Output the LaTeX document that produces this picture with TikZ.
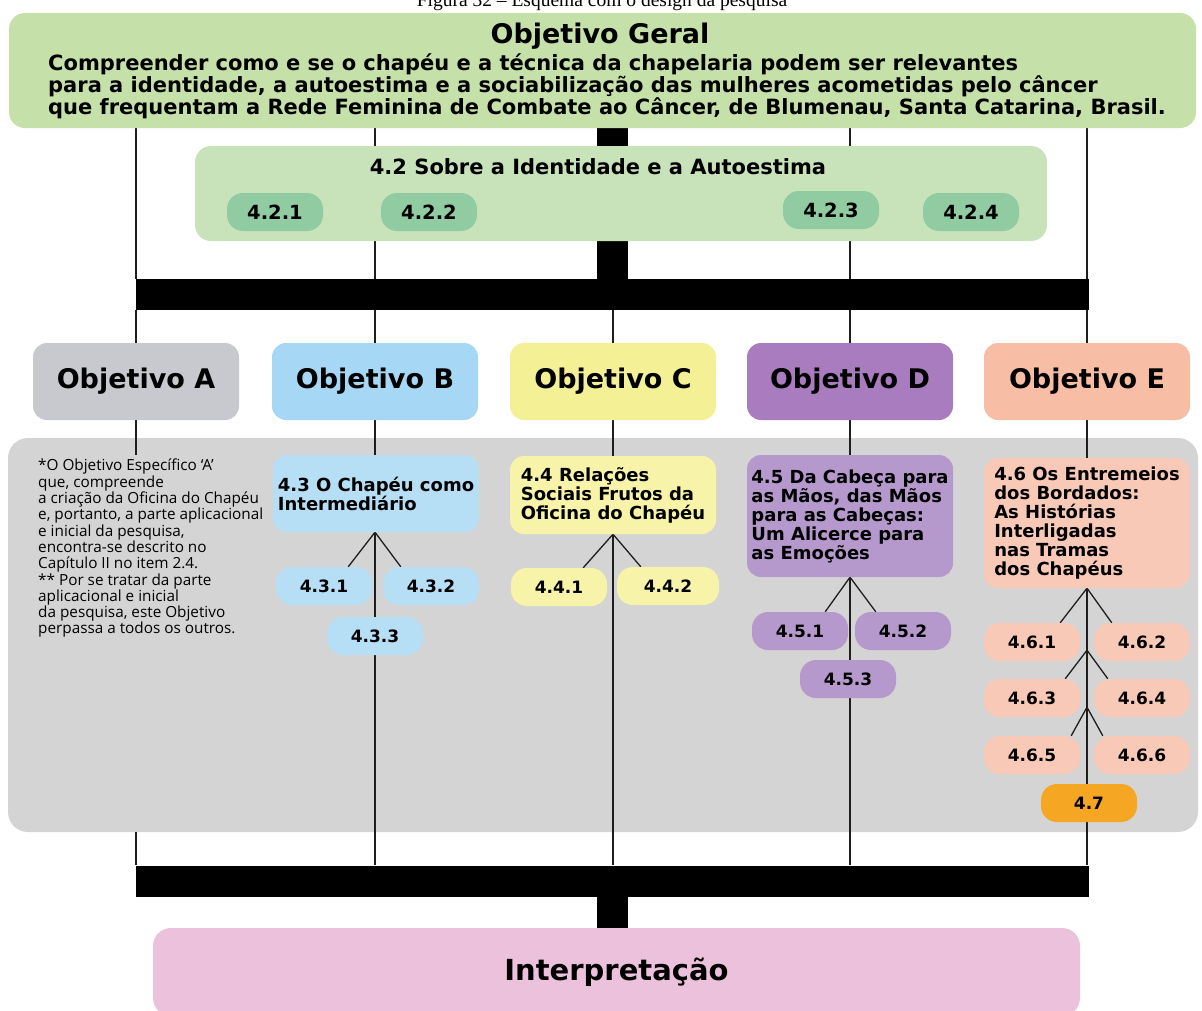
\documentclass[tikz,border=0pt]{standalone}
\usepackage{fontspec}
\setmainfont{DejaVu Sans}
\newfontfamily\notefont{Open Sans}
\newfontfamily\capfont{Liberation Serif}
\usepackage{tikz}
\usetikzlibrary{backgrounds}
\definecolor{geralgreen}{RGB}{197, 224, 168}
\definecolor{subgreen}{RGB}{200, 227, 186}
\definecolor{pillgreen}{RGB}{145, 203, 162}
\definecolor{objAgray}{RGB}{200, 201, 207}
\definecolor{objBblue}{RGB}{166, 215, 245}
\definecolor{objCyellow}{RGB}{243, 240, 150}
\definecolor{objDpurple}{RGB}{168, 124, 190}
\definecolor{objEsalmon}{RGB}{248, 190, 165}
\definecolor{panelgray}{RGB}{212, 212, 212}
\definecolor{lightblue}{RGB}{182, 223, 246}
\definecolor{lightyellow}{RGB}{247, 243, 168}
\definecolor{lightpurple}{RGB}{181, 153, 205}
\definecolor{lightsalmon}{RGB}{249, 201, 183}
\definecolor{pillorange}{RGB}{245, 166, 35}
\definecolor{interppink}{RGB}{236, 193, 220}
\definecolor{linegray}{RGB}{30, 30, 30}
\pgfdeclarelayer{panel}
\pgfsetlayers{panel,background,main}

\begin{document}
\begin{tikzpicture}[x=1pt, y=-1pt,
    link/.style={line width=1.3pt, draw=linegray},
    bar/.style={fill=black, inner sep=0pt, minimum height=31pt, minimum width=953pt},
    pill/.style={rounded corners=16pt, minimum width=96pt, minimum height=38pt, inner sep=0pt, font=\fontsize{17}{20}\selectfont\bfseries},
    objbox/.style={rounded corners=14pt, minimum width=206pt, minimum height=77pt, inner sep=0pt, font=\fontsize{27}{30}\selectfont\bfseries},
    subbox/.style={rounded corners=14pt, minimum width=206pt, inner sep=0pt, align=left, font=\fontsize{18}{19}\selectfont\bfseries}]
    \useasboundingbox (0,0) rectangle (1202,1010);
    \clip (0,0) rectangle (1202,1010);

    \node[anchor=base, font=\capfont\fontsize{19.5}{22}\selectfont] (caption) at (602,6) {Figura 32 – Esquema com o design da pesquisa};

    % objetivo geral
    \node[fill=geralgreen, rounded corners=16pt, minimum width=1187pt, minimum height=115pt, inner sep=0pt] (geral) at (602.5,70.5) {};
    \node[font=\fontsize{27}{30}\selectfont\bfseries] (geraltit) at (600,36) {Objetivo Geral};
    \node[anchor=west, inner sep=0pt, align=left, font=\fontsize{21}{22}\selectfont\bfseries] (geraltxt) at (48,86) {Compreender como e se o chapéu e a técnica da chapelaria podem ser relevantes\\
        para a identidade, a autoestima e a sociabilização das mulheres acometidas pelo câncer\\
        que frequentam a Rede Feminina de Combate ao Câncer, de Blumenau, Santa Catarina, Brasil.};

    % 4.2
    \node[fill=subgreen, rounded corners=16pt, minimum width=852pt, minimum height=95pt, inner sep=0pt] (b42) at (621,193.5) {};
    \node[font=\fontsize{21}{22}\selectfont\bfseries] (t42) at (598,167) {4.2 Sobre a Identidade e a Autoestima};
    \node[pill, fill=pillgreen, font=\fontsize{19.5}{22}\selectfont\bfseries] (p421) at (275,212) {4.2.1};
    \node[pill, fill=pillgreen, font=\fontsize{19.5}{22}\selectfont\bfseries] (p422) at (429,212) {4.2.2};
    \node[pill, fill=pillgreen, font=\fontsize{19.5}{22}\selectfont\bfseries] (p423) at (831,210) {4.2.3};
    \node[pill, fill=pillgreen, font=\fontsize{19.5}{22}\selectfont\bfseries] (p424) at (971,212) {4.2.4};

    \node[bar] (bartop) at (612.5,294.5) {};

    % objetivos
    \node[objbox, fill=objAgray] (objA) at (136,381.5) {Objetivo A};
    \node[objbox, fill=objBblue] (objB) at (375,381.5) {Objetivo B};
    \node[objbox, fill=objCyellow] (objC) at (613,381.5) {Objetivo C};
    \node[objbox, fill=objDpurple] (objD) at (850,381.5) {Objetivo D};
    \node[objbox, fill=objEsalmon] (objE) at (1087,381.5) {Objetivo E};

    \begin{pgfonlayer}{panel}
        \node[fill=panelgray, rounded corners=20pt, minimum width=1190pt, minimum height=394pt, inner sep=0pt] (panel) at (603,635) {};
    \end{pgfonlayer}

    \node[anchor=north west, inner sep=0pt, align=left, font=\notefont\fontsize{15.3}{16.3}\selectfont] (noteA) at (38,459) {*O Objetivo Específico ‘A’\\
        que, compreende\\
        a criação da Oficina do Chapéu\\
        e, portanto, a parte aplicacional\\
        e inicial da pesquisa,\\
        encontra-se descrito no\\
        Capítulo II no item 2.4.\\
        ** Por se tratar da parte\\
        aplicacional e inicial\\
        da pesquisa, este Objetivo\\
        perpassa a todos os outros.};
    \coordinate (aend) at (136,455);

    % 4.3
    \node[subbox, fill=lightblue, minimum height=77pt] (b43) at (376,493.5) {4.3 O Chapéu como\\Intermediário};
    \node[pill, fill=lightblue] (p431) at (324,586) {4.3.1};
    \node[pill, fill=lightblue] (p432) at (431,586) {4.3.2};
    \node[pill, fill=lightblue] (p433) at (375,636) {4.3.3};

    % 4.4
    \node[subbox, fill=lightyellow, minimum height=78pt] (b44) at (613,495) {4.4 Relações\\Sociais Frutos da\\Oficina do Chapéu};
    \node[pill, fill=lightyellow] (p441) at (559,587) {4.4.1};
    \node[pill, fill=lightyellow, minimum width=102pt] (p442) at (668,586) {4.4.2};

    % 4.5
    \node[subbox, fill=lightpurple, minimum height=122pt] (b45) at (850,516) {4.5 Da Cabeça para\\as Mãos, das Mãos\\para as Cabeças:\\Um Alicerce para\\as Emoções};
    \node[pill, fill=lightpurple] (p451) at (800,631) {4.5.1};
    \node[pill, fill=lightpurple] (p452) at (903,631) {4.5.2};
    \node[pill, fill=lightpurple] (p453) at (848,679) {4.5.3};

    % 4.6
    \node[subbox, fill=lightsalmon, minimum height=130pt] (b46) at (1087,523) {4.6 Os Entremeios\\dos Bordados:\\As Histórias\\Interligadas\\nas Tramas\\dos Chapéus};
    \node[pill, fill=lightsalmon] (p461) at (1032,642) {4.6.1};
    \node[pill, fill=lightsalmon] (p462) at (1142,642) {4.6.2};
    \node[pill, fill=lightsalmon] (p463) at (1032,698) {4.6.3};
    \node[pill, fill=lightsalmon] (p464) at (1142,698) {4.6.4};
    \node[pill, fill=lightsalmon] (p465) at (1032,755) {4.6.5};
    \node[pill, fill=lightsalmon] (p466) at (1142,755) {4.6.6};
    \node[pill, fill=pillorange] (p47) at (1089,803) {4.7};

    \node[bar] (barbot) at (612.5,881) {};
    \node[fill=interppink, rounded corners=18pt, minimum width=927pt, minimum height=88pt, inner sep=0pt, font=\fontsize{29}{32}\selectfont\bfseries] (interp) at (616.5,972) {Interpretação};

    \begin{scope}[on background layer]
        \draw[line width=31pt] (bartop.north |- geral.south) -- (bartop.north);
        \draw[line width=31pt] (barbot.south) -- (barbot.south |- interp.north);
        \foreach \o in {objA,objB,objD,objE}
            \draw[link] (\o |- geral.south) -- (\o |- bartop.north);
        \foreach \o in {objA,objB,objC,objD,objE}
            \draw[link] (\o |- bartop.south) -- (\o.north);
        \draw[link] (objA.south) -- (aend);
        \draw[link] (objA |- panel.south) -- (objA |- barbot.north);
        \draw[link] (objB.south) -- (objB |- b43.north);
        \draw[link] (objC.south) -- (b44.north);
        \draw[link] (objD.south) -- (b45.north);
        \draw[link] (objE.south) -- (b46.north);
        \draw[link] (objB |- b43.south) -- (objB |- barbot.north);
        \draw[link] (b44.south) -- (b44.south |- barbot.north);
        \draw[link] (b45.south) -- (b45.south |- barbot.north);
        \draw[link] (b46.south) -- (b46.south |- barbot.north);
        % ramos
        \draw[link] ([xshift=-24pt]p431.north east) -- (objB |- b43.south) -- ([xshift=18pt]p432.north west);
        \draw[link] ([xshift=-24pt]p441.north east) -- (b44.south) -- ([xshift=24pt]p442.north west);
        \draw[link] ([xshift=-23pt]p451.north east) -- (b45.south) -- ([xshift=21pt]p452.north west);
        \draw[link] ([xshift=-20pt]p461.north east) -- (b46.south) -- ([xshift=18pt]p462.north west);
        \draw[link] ([xshift=-15pt]p463.north east) -- ([yshift=11pt]b46.south |- p461.south) -- ([xshift=14pt]p464.north west);
        \draw[link] ([xshift=-9pt]p465.north east) -- ([yshift=10pt]b46.south |- p463.south) -- ([xshift=9pt]p466.north west);
    \end{scope}
\end{tikzpicture}
\end{document}
